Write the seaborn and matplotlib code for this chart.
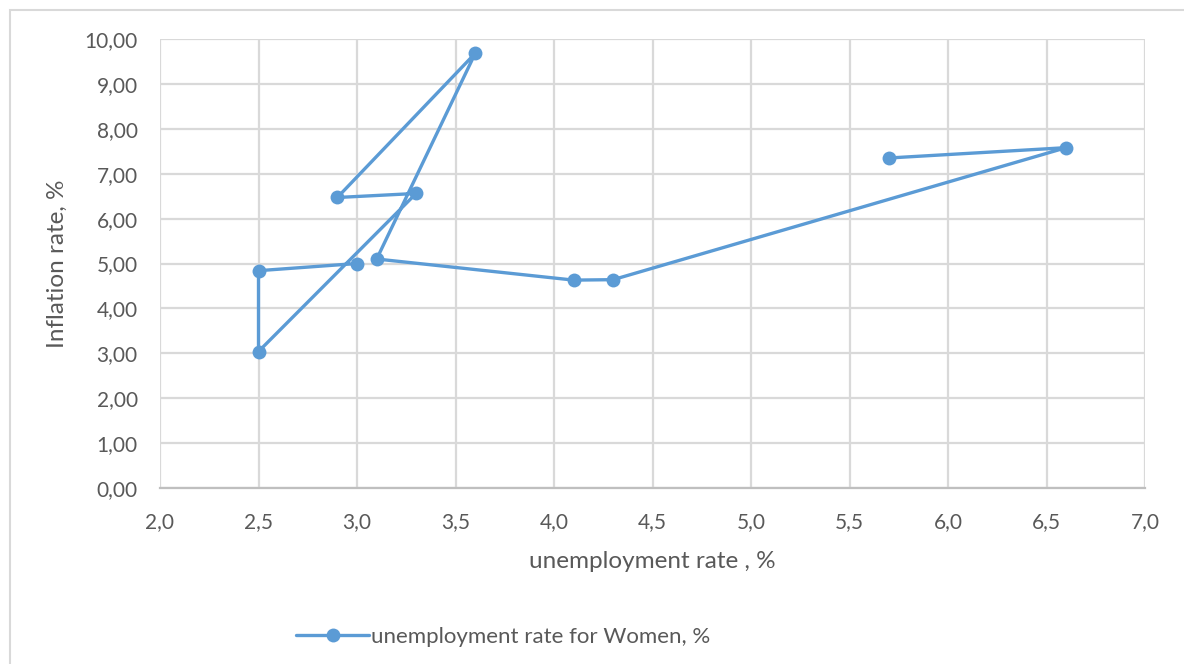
import matplotlib
matplotlib.use("Agg")
import matplotlib.pyplot as plt
import matplotlib.ticker as mticker
from matplotlib.patches import Rectangle
import seaborn as sns
import pandas as pd

# Unemployment rate for women (%) vs inflation rate (%), in year order
unemployment_women = [5.7, 6.6, 4.3, 4.1, 3.1, 3.6, 2.9, 3.3, 2.5, 2.5, 3.0]
inflation = [7.35, 7.58, 4.64, 4.63, 5.10, 9.68, 6.47, 6.56, 3.04, 4.84, 5.00]
series_name = "unemployment rate for Women, %"

df = pd.DataFrame({"x": unemployment_women, "y": inflation, "series": series_name})

sns.set_theme(style="white")
plt.rcParams["font.family"] = ["Lato", "DejaVu Sans"]

blue = "#5b9bd5"
grid = "#d9d9d9"
text_col = "#595959"

fig = plt.figure(figsize=(11.84, 6.64), dpi=100)
ax = fig.add_axes([160 / 1184, 1 - 488 / 664, (1145 - 160) / 1184, (488 - 39) / 664])

sns.lineplot(data=df, x="x", y="y", hue="series", palette=[blue], sort=False,
             estimator=None, marker="o", markersize=10, markeredgewidth=0,
             linewidth=2.4, ax=ax, legend=True)

ax.set_xlim(2.0, 7.0)
ax.set_ylim(0, 10)
ax.xaxis.set_major_locator(mticker.MultipleLocator(0.5))
ax.yaxis.set_major_locator(mticker.MultipleLocator(1.0))
ax.xaxis.set_major_formatter(mticker.FuncFormatter(lambda v, p: f"{v:.1f}".replace(".", ",")))
ax.yaxis.set_major_formatter(mticker.FuncFormatter(lambda v, p: f"{v:.2f}".replace(".", ",")))
ax.grid(True, color=grid, linewidth=1.6)
ax.set_axisbelow(True)
for side in ["top", "right", "left"]:
    ax.spines[side].set_visible(False)
ax.spines["bottom"].set_color("#bfbfbf")
ax.spines["bottom"].set_linewidth(1.6)
ax.tick_params(axis="both", length=0, labelsize=15, colors=text_col)
ax.tick_params(axis="x", pad=17)
ax.tick_params(axis="y", pad=16)

ax.set_xlabel("unemployment rate , %", fontsize=17.5, color=text_col, labelpad=14)
ax.set_ylabel("Inflation rate, %", fontsize=17.5, color=text_col, labelpad=12)

handles, labels = ax.get_legend_handles_labels()
ax.get_legend().remove()
leg = fig.legend(handles, labels, loc="center", bbox_to_anchor=(503 / 1184, 1 - 637 / 664),
                 frameon=False, fontsize=16, handlelength=3.3, handletextpad=0.05)
for t in leg.get_texts():
    t.set_color(text_col)

# chart frame
fig.patches.append(Rectangle((10 / 1184, -0.1), 1.2, 1 - 10 / 664 + 0.1,
                             transform=fig.transFigure, fill=False,
                             edgecolor=grid, linewidth=1.5))

fig.savefig("out.png", dpi=100, facecolor="white")
